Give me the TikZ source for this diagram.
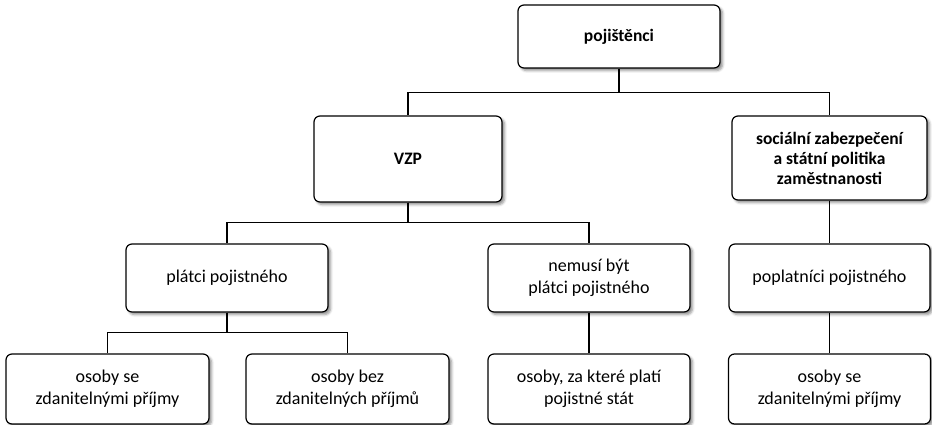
\documentclass[tikz,border=0pt]{standalone}
\usepackage{fontspec}
\setmainfont{Carlito}
\usetikzlibrary{shadows.blur}
\begin{document}
\begin{tikzpicture}[x=1pt,y=-1pt,
  box/.style={draw=black, line width=1.2pt, rounded corners=6pt, fill=white,
    align=center, font=\fontsize{18}{21.5}\selectfont, inner sep=0pt,
    blur shadow={shadow xshift=2.5pt, shadow yshift=-2.5pt, shadow blur radius=2.5pt, shadow opacity=45}},
  bbox/.style={box, font=\fontsize{17.5}{20}\selectfont\bfseries},
  conn/.style={draw=black, line width=1.2pt}]
\useasboundingbox (0,0) rectangle (932,425);
\node[bbox, minimum width=202pt, minimum height=63pt] (root) at (619,36.5) {pojištěnci};
\node[bbox, minimum width=188pt, minimum height=86pt] (vzp) at (408,159) {VZP};
\node[bbox, minimum width=195pt, minimum height=84pt] (soc) at (829.5,158) {sociální zabezpečení\\a státní politika\\zaměstnanosti};
\node[box, minimum width=202pt, minimum height=68pt] (plat) at (227,278) {plátci pojistného};
\node[box, minimum width=202pt, minimum height=68pt] (nem) at (589,278) {nemusí být\\plátci pojistného};
\node[box, minimum width=201pt, minimum height=68pt] (popl) at (829.5,278) {poplatníci pojistného};
\node[box, minimum width=203pt, minimum height=70pt] (b1) at (107.5,389) {osoby se\\zdanitelnými příjmy};
\node[box, minimum width=203pt, minimum height=70pt] (b2) at (347.5,389) {osoby bez\\zdanitelných příjmů};
\node[box, minimum width=202pt, minimum height=70pt] (b3) at (589,389) {osoby, za které platí\\pojistné stát};
\node[box, minimum width=202pt, minimum height=70pt] (b4) at (829.5,389) {osoby se\\zdanitelnými příjmy};
\draw[conn] (root.south) |- (408,92.5) -- (vzp.north);
\draw[conn] (root.south) |- (829.5,92.5) -- (soc.north);
\draw[conn] (vzp.south) |- (227,222.5) -- (plat.north);
\draw[conn] (vzp.south) |- (589,222.5) -- (nem.north);
\draw[conn] (soc.south) -- (popl.north);
\draw[conn] (plat.south) |- (107.5,332.5) -- (b1.north);
\draw[conn] (plat.south) |- (347.5,332.5) -- (b2.north);
\draw[conn] (nem.south) -- (b3.north);
\draw[conn] (popl.south) -- (b4.north);
\end{tikzpicture}
\end{document}
